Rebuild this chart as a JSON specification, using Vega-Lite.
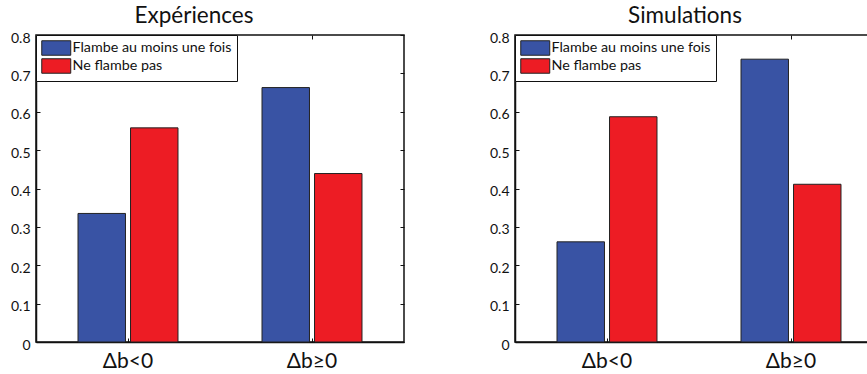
{
  "$schema": "https://vega.github.io/schema/vega-lite/v6.json",
  "padding": {"left": 3, "top": 3, "right": 0, "bottom": 0},
  "spacing": 76,
  "config": {
    "font": "Lato",
    "view": {"stroke": "#111", "strokeWidth": 1.5},
    "axis": {"domainColor": "#111", "domainWidth": 1.5, "tickColor": "#111", "tickWidth": 1, "grid": false, "labelColor": "#111", "title": null},
    "title": {"fontSize": 22.5, "fontWeight": "normal", "color": "#111", "offset": 4, "frame": "group", "anchor": "middle"}
  },
  "datasets": {
    "d": [
      {"panel": "Expériences", "group": "Δb<0", "series": "Flambe au moins une fois", "value": 0.335},
      {"panel": "Expériences", "group": "Δb<0", "series": "Ne flambe pas", "value": 0.558},
      {"panel": "Expériences", "group": "Δb≥0", "series": "Flambe au moins une fois", "value": 0.663},
      {"panel": "Expériences", "group": "Δb≥0", "series": "Ne flambe pas", "value": 0.439},
      {"panel": "Simulations", "group": "Δb<0", "series": "Flambe au moins une fois", "value": 0.261},
      {"panel": "Simulations", "group": "Δb<0", "series": "Ne flambe pas", "value": 0.587},
      {"panel": "Simulations", "group": "Δb≥0", "series": "Flambe au moins une fois", "value": 0.737},
      {"panel": "Simulations", "group": "Δb≥0", "series": "Ne flambe pas", "value": 0.411}
    ]
  },
  "data": {"name": "d"},
  "resolve": {"scale": {"color": "independent"}, "legend": {"color": "independent"}},
  "hconcat": [
    {
      "width": 368,
      "height": 307,
      "title": {"text": "Expériences", "dx": -26},
      "transform": [{"filter": "datum.panel === 'Expériences'"}],
      "layer": [
        {
          "mark": {"type": "bar", "stroke": "#222", "strokeWidth": 1},
          "encoding": {
            "x": {"field": "group", "type": "nominal", "sort": ["Δb<0", "Δb≥0"], "scale": {"paddingInner": 0, "paddingOuter": 0},
                  "axis": {"orient": "bottom", "labelAngle": 0, "labelFontSize": 21, "tickSize": -4, "labelPadding": 12, "minExtent": 30, "maxExtent": 30}},
            "xOffset": {"field": "series", "type": "nominal", "sort": ["Flambe au moins une fois", "Ne flambe pas"], "scale": {"paddingInner": 0.096, "paddingOuter": 0.8}},
            "y": {"field": "value", "type": "quantitative", "scale": {"domain": [0, 0.8], "nice": false, "zero": true},
                  "axis": {"orient": "left", "values": [0, 0.1, 0.2, 0.3, 0.4, 0.5, 0.6, 0.7, 0.8], "format": "~g", "labelFontSize": 14, "labelOffset": 3, "tickSize": -4, "labelPadding": 10, "minExtent": 32, "maxExtent": 32}},
            "color": {"field": "series", "type": "nominal", "sort": ["Flambe au moins une fois", "Ne flambe pas"],
                      "scale": {"domain": ["Flambe au moins une fois", "Ne flambe pas"], "range": ["#3953a4", "#ed1c24"]},
                      "legend": {"title": null, "orient": "top-left", "offset": 0, "padding": 5, "fillColor": "white", "strokeColor": "#111",
                                 "symbolType": "M-1,-1H3V1H-1Z", "symbolSize": 210, "symbolStrokeColor": "#222", "symbolStrokeWidth": 1, "symbolOpacity": 1,
                                 "labelFontSize": 14.3, "labelLimit": 400, "labelColor": "#111", "labelOffset": 15.5, "rowPadding": -2.5}}
          }
        },
        {
          "mark": {"type": "bar", "opacity": 0},
          "encoding": {
            "x": {"field": "group", "type": "nominal", "sort": ["Δb<0", "Δb≥0"], "axis": {"orient": "top", "labels": false, "domain": false, "tickSize": -4, "minExtent": 0, "maxExtent": 0}},
            "xOffset": {"field": "series", "type": "nominal", "sort": ["Flambe au moins une fois", "Ne flambe pas"]},
            "y": {"field": "value", "type": "quantitative", "axis": {"orient": "right", "values": [0, 0.1, 0.2, 0.3, 0.4, 0.5, 0.6, 0.7, 0.8], "labels": false, "domain": false, "tickSize": -4, "minExtent": 0, "maxExtent": 0}}
          }
        }
      ],
      "resolve": {"axis": {"x": "independent", "y": "independent"}}
    },
    {
      "width": 368,
      "height": 307,
      "title": {"text": "Simulations", "dx": -14},
      "transform": [{"filter": "datum.panel === 'Simulations'"}],
      "layer": [
        {
          "mark": {"type": "bar", "stroke": "#222", "strokeWidth": 1},
          "encoding": {
            "x": {"field": "group", "type": "nominal", "sort": ["Δb<0", "Δb≥0"], "scale": {"paddingInner": 0, "paddingOuter": 0},
                  "axis": {"orient": "bottom", "labelAngle": 0, "labelFontSize": 21, "tickSize": -4, "labelPadding": 12, "minExtent": 30, "maxExtent": 30}},
            "xOffset": {"field": "series", "type": "nominal", "sort": ["Flambe au moins une fois", "Ne flambe pas"], "scale": {"paddingInner": 0.096, "paddingOuter": 0.8}},
            "y": {"field": "value", "type": "quantitative", "scale": {"domain": [0, 0.8], "nice": false, "zero": true},
                  "axis": {"orient": "left", "values": [0, 0.1, 0.2, 0.3, 0.4, 0.5, 0.6, 0.7, 0.8], "format": "~g", "labelFontSize": 14, "labelOffset": 3, "tickSize": -4, "labelPadding": 10, "minExtent": 32, "maxExtent": 32}},
            "color": {"field": "series", "type": "nominal", "sort": ["Flambe au moins une fois", "Ne flambe pas"],
                      "scale": {"domain": ["Flambe au moins une fois", "Ne flambe pas"], "range": ["#3953a4", "#ed1c24"]},
                      "legend": {"title": null, "orient": "top-left", "offset": 0, "padding": 5, "fillColor": "white", "strokeColor": "#111",
                                 "symbolType": "M-1,-1H3V1H-1Z", "symbolSize": 210, "symbolStrokeColor": "#222", "symbolStrokeWidth": 1, "symbolOpacity": 1,
                                 "labelFontSize": 14.3, "labelLimit": 400, "labelColor": "#111", "labelOffset": 15.5, "rowPadding": -2.5}}
          }
        },
        {
          "mark": {"type": "bar", "opacity": 0},
          "encoding": {
            "x": {"field": "group", "type": "nominal", "sort": ["Δb<0", "Δb≥0"], "axis": {"orient": "top", "labels": false, "domain": false, "tickSize": -4, "minExtent": 0, "maxExtent": 0}},
            "xOffset": {"field": "series", "type": "nominal", "sort": ["Flambe au moins une fois", "Ne flambe pas"]},
            "y": {"field": "value", "type": "quantitative", "axis": {"orient": "right", "values": [0, 0.1, 0.2, 0.3, 0.4, 0.5, 0.6, 0.7, 0.8], "labels": false, "domain": false, "tickSize": -4, "minExtent": 0, "maxExtent": 0}}
          }
        }
      ],
      "resolve": {"axis": {"x": "independent", "y": "independent"}}
    }
  ]
}
